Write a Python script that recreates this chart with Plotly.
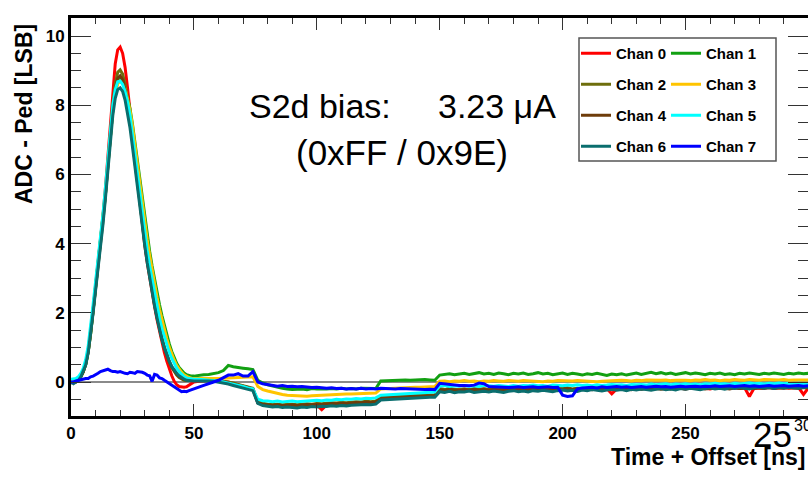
import plotly.graph_objects as go

# Sample times [ns]: 1 ns steps through the pulse, 2 ns steps in the tail
time_ns = list(range(0, 51)) + list(range(52, 301, 2))

channel_names = ["Chan 0", "Chan 1", "Chan 2", "Chan 3",
                 "Chan 4", "Chan 5", "Chan 6", "Chan 7"]
channel_colors = ["#ff0000", "#12a012", "#6e6e0c", "#ffc400",
                  "#6e3c0a", "#00ffff", "#0a6e6e", "#0000ff"]

# ADC - pedestal [LSB] for each channel
chan0 = [
    0.0, 0.0, 0.02, 0.08, 0.18, 0.32, 0.55, 0.92, 1.45, 2.1,
    2.8, 3.45, 4.1, 4.8, 5.6, 6.5, 7.5, 8.45, 9.2, 9.6,
    9.68, 9.5, 9.1, 8.5, 7.85, 7.15, 6.45, 5.75, 5.1, 4.5,
    3.95, 3.45, 3.0, 2.58, 2.18, 1.8, 1.45, 1.12, 0.85, 0.6,
    0.38, 0.18, 0.02, -0.08, -0.13, -0.15, -0.15, -0.14, -0.1, -0.05,
    0.0,
    0.02, 0.04, 0.05, 0.05, 0.04, 0.02, 0.0, -0.04, -0.08, -0.12, -0.16, -0.2,
    -0.6, -0.65, -0.66, -0.68, -0.67, -0.7, -0.68, -0.69, -0.7, -0.7, -0.68, -0.67, -0.66,
    -0.8, -0.66, -0.63, -0.64, -0.62, -0.63, -0.61, -0.6, -0.61, -0.59, -0.6, -0.58,
    -0.47, -0.46, -0.45, -0.45, -0.44, -0.43, -0.42, -0.42, -0.41, -0.4, -0.4, -0.39,
    -0.2, -0.22, -0.19, -0.23, -0.21, -0.2, -0.24, -0.21, -0.22, -0.19,
    -0.23, -0.2, -0.21, -0.24, -0.2, -0.22, -0.19, -0.21, -0.23, -0.2,
    -0.21, -0.18, -0.22, -0.2, -0.19, -0.21, -0.18, -0.22, -0.2, -0.19,
    -0.21, -0.18, -0.2, -0.22, -0.19, -0.34, -0.2, -0.18, -0.21, -0.19,
    -0.17, -0.2, -0.18, -0.21, -0.17, -0.19, -0.2, -0.17, -0.19, -0.18,
    -0.2, -0.17, -0.19, -0.16, -0.18, -0.2, -0.17, -0.19, -0.16, -0.18,
    -0.17, -0.19, -0.16, -0.42, -0.17, -0.18, -0.18, -0.16, -0.18, -0.17,
    -0.16, -0.18, -0.17, -0.16, -0.36, -0.17,
]
chan1 = [
    -0.03, 0.0, 0.02, 0.06, 0.15, 0.3, 0.52, 0.88, 1.4, 2.05,
    2.7, 3.33, 3.98, 4.67, 5.42, 6.25, 7.1, 7.85, 8.38, 8.68,
    8.75, 8.7, 8.52, 8.25, 7.9, 7.46, 6.93, 6.37, 5.8, 5.25,
    4.73, 4.24, 3.78, 3.35, 2.95, 2.58, 2.24, 1.92, 1.62, 1.35,
    1.1, 0.88, 0.7, 0.54, 0.42, 0.33, 0.26, 0.21, 0.18, 0.17,
    0.17,
    0.2, 0.21, 0.22, 0.24, 0.27, 0.33, 0.48, 0.44, 0.43, 0.4, 0.38, 0.36,
    0.05, -0.03, -0.08, -0.12, -0.15, -0.18, -0.2, -0.22, -0.21, -0.2, -0.22, -0.19, -0.2,
    -0.21, -0.2, -0.19, -0.2, -0.18, -0.2, -0.19, -0.2, -0.18, -0.19, -0.2, -0.19,
    0.03, 0.04, 0.05, 0.04, 0.05, 0.06, 0.05, 0.06, 0.05, 0.07, 0.06, 0.05,
    0.2, 0.22, 0.24, 0.21, 0.23, 0.25, 0.22, 0.24, 0.27, 0.23,
    0.25, 0.22, 0.26, 0.24, 0.21, 0.25, 0.23, 0.26, 0.22, 0.24,
    0.27, 0.23, 0.25, 0.21, 0.24, 0.26, 0.22, 0.25, 0.23, 0.2,
    0.24, 0.22, 0.25, 0.21, 0.19, 0.23, 0.21, 0.24, 0.2, 0.23,
    0.26, 0.22, 0.25, 0.28, 0.24, 0.27, 0.23, 0.26, 0.22, 0.25,
    0.27, 0.23, 0.26, 0.24, 0.21, 0.25, 0.23, 0.26, 0.22, 0.24,
    0.21, 0.25, 0.23, 0.26, 0.24, 0.22, 0.25, 0.23, 0.26, 0.24,
    0.22, 0.25, 0.23, 0.26, 0.24, 0.25,
]
chan2 = [
    0.0, -0.02, 0.0, 0.06, 0.16, 0.3, 0.52, 0.88, 1.4, 2.05,
    2.72, 3.35, 4.0, 4.7, 5.45, 6.3, 7.2, 8.0, 8.6, 8.95,
    9.02, 8.9, 8.6, 8.2, 7.7, 7.1, 6.45, 5.8, 5.2, 4.6,
    4.05, 3.55, 3.08, 2.66, 2.26, 1.9, 1.56, 1.26, 1.0, 0.78,
    0.58, 0.42, 0.3, 0.2, 0.13, 0.08, 0.05, 0.04, 0.04, 0.05,
    0.05,
    0.05, 0.06, 0.06, 0.05, 0.04, 0.02, 0.0, -0.03, -0.07, -0.11, -0.15, -0.18,
    -0.58, -0.62, -0.64, -0.65, -0.64, -0.66, -0.65, -0.64, -0.66, -0.64, -0.63, -0.64, -0.62,
    -0.63, -0.61, -0.6, -0.61, -0.59, -0.6, -0.58, -0.57, -0.58, -0.56, -0.57, -0.55,
    -0.44, -0.43, -0.43, -0.42, -0.41, -0.41, -0.4, -0.39, -0.39, -0.38, -0.37, -0.37,
    -0.2, -0.22, -0.19, -0.21, -0.23, -0.2, -0.22, -0.19, -0.21, -0.2,
    -0.22, -0.19, -0.21, -0.2, -0.18, -0.21, -0.19, -0.22, -0.2, -0.18,
    -0.2, -0.19, -0.21, -0.18, -0.2, -0.19, -0.17, -0.2, -0.18, -0.19,
    -0.18, -0.2, -0.17, -0.19, -0.18, -0.16, -0.19, -0.17, -0.18, -0.2,
    -0.17, -0.19, -0.16, -0.18, -0.17, -0.19, -0.16, -0.18, -0.15, -0.17,
    -0.18, -0.16, -0.17, -0.15, -0.18, -0.16, -0.17, -0.15, -0.16, -0.18,
    -0.15, -0.17, -0.16, -0.14, -0.17, -0.15, -0.16, -0.14, -0.17, -0.15,
    -0.16, -0.14, -0.15, -0.16, -0.14, -0.15,
]
chan3 = [
    0.0, 0.02, 0.03, 0.08, 0.18, 0.33, 0.55, 0.92, 1.45, 2.1,
    2.75, 3.38, 4.02, 4.7, 5.45, 6.28, 7.12, 7.85, 8.35, 8.62,
    8.7, 8.65, 8.48, 8.2, 7.85, 7.4, 6.85, 6.28, 5.7, 5.14,
    4.62, 4.12, 3.66, 3.22, 2.82, 2.45, 2.1, 1.78, 1.5, 1.24,
    1.0, 0.8, 0.63, 0.48, 0.37, 0.28, 0.21, 0.16, 0.13, 0.11,
    0.1,
    0.1, 0.1, 0.11, 0.1, 0.1, 0.11, 0.12, 0.12, 0.13, 0.14, 0.15, 0.15,
    -0.13, -0.22, -0.26, -0.3, -0.33, -0.36, -0.38, -0.39, -0.41, -0.4, -0.41, -0.4, -0.39,
    -0.38, -0.38, -0.37, -0.36, -0.36, -0.35, -0.35, -0.34, -0.34, -0.33, -0.33, -0.32,
    -0.2, -0.19, -0.18, -0.18, -0.17, -0.16, -0.16, -0.15, -0.15, -0.14, -0.13, -0.13,
    0.02, 0.03, 0.01, 0.03, 0.02, 0.04, 0.02, 0.03, 0.01, 0.03,
    0.02, 0.04, 0.03, 0.02, 0.04, 0.03, 0.02, 0.04, 0.03, 0.02,
    0.03, 0.01, 0.03, 0.02, 0.04, 0.03, 0.02, 0.03, 0.04, 0.03,
    0.02, 0.03, 0.01, 0.02, 0.03, 0.04, 0.03, 0.05, 0.04, 0.03,
    0.05, 0.04, 0.06, 0.05, 0.04, 0.05, 0.06, 0.04, 0.05, 0.06,
    0.05, 0.04, 0.06, 0.05, 0.07, 0.05, 0.06, 0.04, 0.06, 0.05,
    0.07, 0.06, 0.05, 0.07, 0.06, 0.05, 0.07, 0.06, 0.05, 0.06,
    0.07, 0.05, 0.06, 0.07, 0.06, 0.06,
]
chan4 = [
    -0.02, 0.0, 0.0, 0.06, 0.15, 0.3, 0.52, 0.88, 1.4, 2.05,
    2.7, 3.32, 3.97, 4.65, 5.4, 6.22, 7.1, 7.88, 8.45, 8.78,
    8.85, 8.73, 8.45, 8.05, 7.55, 6.97, 6.35, 5.72, 5.12, 4.55,
    4.02, 3.52, 3.06, 2.64, 2.24, 1.88, 1.54, 1.25, 0.99, 0.77,
    0.58, 0.43, 0.31, 0.22, 0.15, 0.1, 0.07, 0.05, 0.05, 0.05,
    0.05,
    0.05, 0.05, 0.05, 0.04, 0.03, 0.01, -0.02, -0.05, -0.09, -0.13, -0.16, -0.2,
    -0.6, -0.64, -0.66, -0.67, -0.66, -0.68, -0.67, -0.66, -0.68, -0.66, -0.65, -0.66, -0.64,
    -0.65, -0.63, -0.62, -0.63, -0.61, -0.62, -0.6, -0.59, -0.6, -0.58, -0.59, -0.57,
    -0.46, -0.45, -0.45, -0.44, -0.43, -0.43, -0.42, -0.41, -0.41, -0.4, -0.39, -0.39,
    -0.22, -0.24, -0.21, -0.23, -0.25, -0.22, -0.24, -0.21, -0.23, -0.22,
    -0.24, -0.21, -0.23, -0.22, -0.2, -0.23, -0.21, -0.24, -0.22, -0.2,
    -0.22, -0.21, -0.23, -0.2, -0.22, -0.21, -0.19, -0.22, -0.2, -0.21,
    -0.2, -0.22, -0.19, -0.21, -0.2, -0.18, -0.21, -0.19, -0.2, -0.22,
    -0.19, -0.21, -0.18, -0.2, -0.19, -0.21, -0.18, -0.2, -0.17, -0.19,
    -0.2, -0.18, -0.19, -0.17, -0.2, -0.18, -0.19, -0.17, -0.18, -0.2,
    -0.17, -0.19, -0.18, -0.16, -0.19, -0.17, -0.18, -0.16, -0.19, -0.17,
    -0.18, -0.16, -0.17, -0.18, -0.16, -0.17,
]
chan5 = [
    0.08, 0.1, 0.1, 0.15, 0.25, 0.4, 0.65, 1.05, 1.6, 2.25,
    2.9, 3.5, 4.15, 4.85, 5.6, 6.45, 7.3, 8.0, 8.45, 8.68,
    8.7, 8.6, 8.4, 8.1, 7.7, 7.15, 6.55, 5.95, 5.35, 4.8,
    4.3, 3.8, 3.35, 2.95, 2.55, 2.2, 1.85, 1.55, 1.3, 1.05,
    0.85, 0.68, 0.52, 0.4, 0.3, 0.22, 0.16, 0.12, 0.1, 0.08,
    0.08,
    0.08, 0.07, 0.06, 0.04, 0.03, 0.0, -0.03, -0.05, -0.09, -0.13, -0.17, -0.2,
    -0.5, -0.54, -0.55, -0.57, -0.55, -0.58, -0.56, -0.55, -0.57, -0.56, -0.54, -0.55, -0.53,
    -0.54, -0.52, -0.53, -0.5, -0.51, -0.49, -0.5, -0.48, -0.49, -0.47, -0.48, -0.46,
    -0.38, -0.37, -0.36, -0.36, -0.35, -0.34, -0.33, -0.33, -0.32, -0.3, -0.3, -0.29,
    -0.12, -0.1, -0.13, -0.11, -0.12, -0.1, -0.12, -0.11, -0.13, -0.1,
    -0.11, -0.12, -0.1, -0.11, -0.13, -0.1, -0.12, -0.1, -0.11, -0.09,
    -0.11, -0.1, -0.12, -0.09, -0.1, -0.11, -0.09, -0.1, -0.08, -0.1,
    -0.09, -0.11, -0.08, -0.1, -0.09, -0.07, -0.09, -0.08, -0.1, -0.07,
    -0.08, -0.07, -0.09, -0.06, -0.08, -0.07, -0.05, -0.08, -0.06, -0.07,
    -0.05, -0.07, -0.06, -0.08, -0.05, -0.06, -0.04, -0.06, -0.05, -0.07,
    -0.04, -0.06, -0.05, -0.03, -0.05, -0.04, -0.06, -0.04, -0.05, -0.03,
    -0.05, -0.04, -0.06, -0.04, -0.05, -0.04,
]
chan6 = [
    0.0, -0.05, 0.0, 0.05, 0.15, 0.3, 0.5, 0.85, 1.35, 2.0,
    2.65, 3.25, 3.9, 4.55, 5.3, 6.1, 6.95, 7.7, 8.2, 8.45,
    8.5, 8.4, 8.15, 7.8, 7.35, 6.8, 6.2, 5.6, 5.0, 4.45,
    3.95, 3.45, 3.0, 2.6, 2.2, 1.85, 1.5, 1.22, 0.98, 0.78,
    0.6, 0.45, 0.34, 0.25, 0.18, 0.12, 0.08, 0.05, 0.04, 0.03,
    0.03,
    0.03, 0.04, 0.03, 0.02, 0.0, -0.03, -0.06, -0.1, -0.14, -0.18, -0.22, -0.25,
    -0.62, -0.68, -0.7, -0.72, -0.71, -0.74, -0.72, -0.73, -0.75, -0.72, -0.74, -0.71, -0.72,
    -0.7, -0.71, -0.69, -0.7, -0.68, -0.69, -0.67, -0.66, -0.67, -0.65, -0.66, -0.64,
    -0.52, -0.51, -0.5, -0.5, -0.49, -0.48, -0.47, -0.47, -0.46, -0.45, -0.44, -0.44,
    -0.28, -0.3, -0.27, -0.31, -0.28, -0.29, -0.26, -0.3, -0.28, -0.27,
    -0.29, -0.26, -0.28, -0.3, -0.27, -0.25, -0.28, -0.26, -0.29, -0.25,
    -0.27, -0.24, -0.26, -0.28, -0.25, -0.23, -0.26, -0.24, -0.27, -0.23,
    -0.25, -0.22, -0.24, -0.26, -0.23, -0.21, -0.24, -0.22, -0.25, -0.21,
    -0.23, -0.2, -0.22, -0.24, -0.21, -0.19, -0.22, -0.2, -0.23, -0.19,
    -0.21, -0.18, -0.2, -0.22, -0.19, -0.17, -0.2, -0.18, -0.21, -0.17,
    -0.19, -0.16, -0.18, -0.2, -0.17, -0.15, -0.18, -0.16, -0.19, -0.15,
    -0.17, -0.15, -0.17, -0.18, -0.16, -0.15,
]
chan7 = [
    0.0, 0.0, 0.03, 0.05, 0.05, 0.08, 0.1, 0.1, 0.15, 0.17,
    0.2, 0.25, 0.3, 0.33, 0.36, 0.37, 0.33, 0.3, 0.3, 0.28,
    0.3, 0.27, 0.25, 0.24, 0.28, 0.27, 0.25, 0.3, 0.3, 0.28,
    0.25, 0.2, 0.18, 0.02, 0.22, 0.2, 0.12, 0.1, 0.05, 0.0,
    -0.05, -0.1, -0.15, -0.2, -0.25, -0.28, -0.27, -0.28, -0.25, -0.22,
    -0.2,
    -0.15, -0.1, -0.06, 0.0, 0.05, 0.12, 0.2, 0.2, 0.24, 0.17, 0.17, 0.3,
    0.0, -0.05, -0.08, -0.1, -0.12, -0.1, -0.13, -0.12, -0.14, -0.13, -0.15, -0.16, -0.15,
    -0.17, -0.18, -0.17, -0.19, -0.18, -0.2, -0.19, -0.2, -0.18, -0.2, -0.19, -0.2,
    -0.18, -0.19, -0.18, -0.2, -0.19, -0.2, -0.21, -0.2, -0.21, -0.22, -0.21, -0.22,
    -0.04, -0.06, -0.08, -0.09, -0.1, -0.1, -0.11, -0.09, -0.03, -0.05,
    -0.13, -0.14, -0.15, -0.14, -0.16, -0.15, -0.14, -0.16, -0.15, -0.14,
    -0.16, -0.15, -0.14, -0.16, -0.15, -0.38, -0.42, -0.4, -0.2, -0.17,
    -0.16, -0.15, -0.17, -0.14, -0.16, -0.15, -0.13, -0.15, -0.14, -0.16,
    -0.14, -0.13, -0.15, -0.14, -0.12, -0.14, -0.13, -0.15, -0.13, -0.12,
    -0.14, -0.13, -0.12, -0.14, -0.12, -0.13, -0.11, -0.13, -0.12, -0.11,
    -0.13, -0.12, -0.1, -0.12, -0.11, -0.13, -0.11, -0.1, -0.12, -0.11,
    -0.1, -0.12, -0.11, -0.1, -0.12, -0.11,
]
channels = [chan0, chan1, chan2, chan3, chan4, chan5, chan6, chan7]

x_ticks = [0, 50, 100, 150, 200, 250]
y_ticks = [0, 2, 4, 6, 8, 10]

FONT = "Liberation Sans, Arial, Helvetica, sans-serif"

# Plot area in pixels: left 71, right 808, top 18, bottom 416
W, H = 808, 480
L, R, T, B = 71, 808, 18, 416
Y0_PX, PX_PER_LSB = 382, 34.6
PX_PER_NS = 2.458


def px_x(p):
    return (p - L) / (R - L)


def px_y(p):
    return (B - p) / (B - T)


fig = go.Figure()
for i, (name, color, values) in enumerate(zip(channel_names, channel_colors, channels)):
    fig.add_trace(go.Scatter(
        x=time_ns, y=values, mode="lines", name=name,
        line=dict(color=color, width=3),
        legend="legend" if i % 2 == 0 else "legend2",
        legendgroup=name,
    ))

# Empty trace that anchors the right-hand tick axis
fig.add_trace(go.Scatter(x=[None], y=[None], yaxis="y2", showlegend=False,
                         hoverinfo="skip"))

tick_font = dict(family=FONT, size=17, color="black", weight="bold")
y_range = [-(B - Y0_PX) / PX_PER_LSB, (Y0_PX - T) / PX_PER_LSB]
y_minor = dict(dtick=0.5, ticklen=10, ticks="inside", tickcolor="#333333", tickwidth=1)

legend_common = dict(
    bgcolor="rgba(0,0,0,0)", borderwidth=0,
    font=dict(family=FONT, size=15, color="black", weight="bold"),
    xanchor="left", yanchor="top", tracegroupgap=8.5,
    traceorder="grouped",
)

fig.update_layout(
    width=W, height=H,
    margin=dict(l=L, r=W - R, t=T, b=H - B),
    paper_bgcolor="white", plot_bgcolor="white",
    xaxis=dict(
        range=[0, (R - L) / PX_PER_NS], tickvals=x_ticks, ticklen=12,
        minor=dict(dtick=10, ticklen=6, ticks="inside", tickcolor="#333333", tickwidth=1),
        showline=True, linecolor="black", linewidth=3, mirror="ticks",
        ticks="inside", tickcolor="#333333", tickwidth=1,
        showgrid=False, zeroline=False, tickfont=tick_font,
    ),
    yaxis=dict(
        range=y_range, tickvals=y_ticks, ticklen=20, minor=y_minor,
        showline=True, linecolor="black", linewidth=3, mirror=False,
        ticks="inside", tickcolor="#333333", tickwidth=1,
        showgrid=False, zeroline=True, zerolinecolor="#8a8a8a", zerolinewidth=2,
        tickfont=tick_font,
    ),
    yaxis2=dict(
        overlaying="y", side="right", matches="y", range=y_range,
        tickvals=y_ticks, ticklen=20, minor=y_minor,
        ticks="inside", tickcolor="#333333", tickwidth=1,
        showline=False, showgrid=False, zeroline=False, showticklabels=False,
    ),
    legend=dict(x=px_x(576), y=px_y(37), **legend_common),
    legend2=dict(x=px_x(666), y=px_y(37), **legend_common),
    shapes=[dict(
        type="rect", xref="paper", yref="paper",
        x0=px_x(579), x1=px_x(776), y0=px_y(161), y1=px_y(38),
        line=dict(color="#555555", width=1.5), fillcolor="rgba(0,0,0,0)",
    )],
    annotations=[
        dict(text="ADC - Ped [LSB]", xref="paper", yref="paper",
             x=px_x(24), y=px_y(114), textangle=-90, showarrow=False,
             xanchor="center", yanchor="middle",
             font=dict(family=FONT, size=23, color="black", weight="bold")),
        dict(text="Time + Offset [ns]", xref="paper", yref="paper",
             x=px_x(807), y=px_y(457), showarrow=False,
             xanchor="right", yanchor="middle",
             font=dict(family=FONT, size=23, color="black", weight="bold")),
        dict(text="S2d bias:" + "\u00a0" * 5 + "3.23 \u03bcA", xref="paper", yref="paper",
             x=px_x(402), y=px_y(106), showarrow=False,
             xanchor="center", yanchor="middle",
             font=dict(family=FONT, size=34, color="black")),
        dict(text="(0xFF / 0x9E)", xref="paper", yref="paper",
             x=px_x(402), y=px_y(152), showarrow=False,
             xanchor="center", yanchor="middle",
             font=dict(family=FONT, size=35, color="black")),
        dict(text="25", xref="paper", yref="paper",
             x=px_x(772), y=px_y(434), showarrow=False,
             xanchor="center", yanchor="middle",
             font=dict(family=FONT, size=35, color="black")),
        dict(text="30", xref="paper", yref="paper",
             x=px_x(792), y=px_y(425), showarrow=False,
             xanchor="left", yanchor="middle",
             font=dict(family=FONT, size=16, color="black")),
    ],
)

fig.write_html("out.html")
